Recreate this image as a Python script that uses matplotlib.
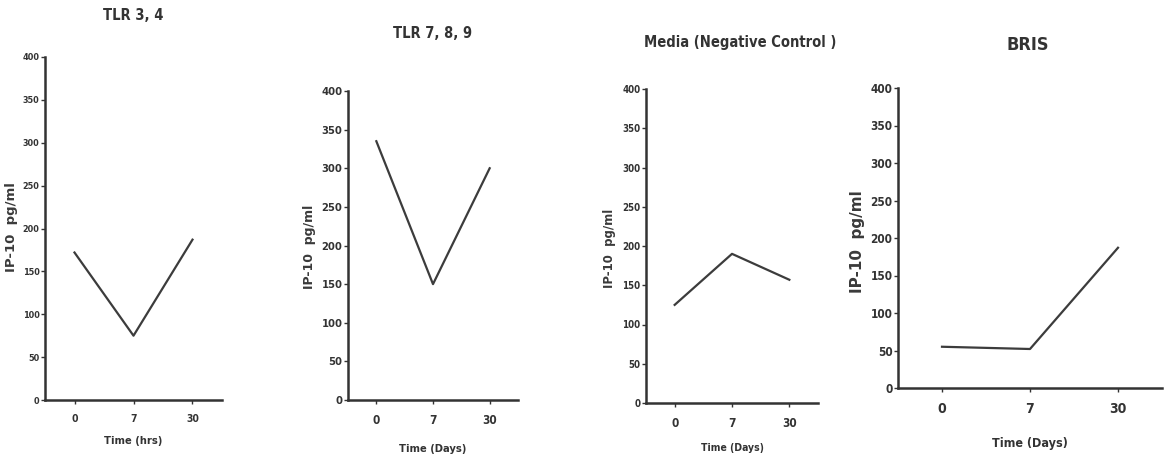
import matplotlib.pyplot as plt

plt.rcParams['font.family'] = ['DejaVu Sans']
plt.rcParams['font.stretch'] = 'condensed'

# IP-10 levels (pg/ml) at each time point
temps = ["0", "7", "30"]
tlr34 = [172, 75, 187]
tlr789 = [335, 150, 300]
media = [125, 190, 157]
bris = [55, 52, 187]
yticks = [0, 50, 100, 150, 200, 250, 300, 350, 400]

W, H = 1172, 459
fig = plt.figure(figsize=(W / 100, H / 100), dpi=100)

def panneau(x0, x1, ytop, y0, valeurs, titre, xlabel, titre_xy, ylab_xy, xlab_y,
            t_titre, t_xlab, t_ylab, t_y, t_x):
    ax = fig.add_axes([x0 / W, 1 - y0 / H, (x1 - x0) / W, (y0 - ytop) / H])
    ax.plot(range(len(temps)), valeurs, color="#3c3c3c", lw=1.6)
    ax.set_xlim(-0.5, 2.5)
    ax.set_ylim(0, 400)
    ax.set_xticks(range(len(temps)))
    ax.set_xticklabels(temps)
    ax.set_yticks(yticks)
    for s in ["top", "right"]:
        ax.spines[s].set_visible(False)
    for s in ["left", "bottom"]:
        ax.spines[s].set_linewidth(1.8)
        ax.spines[s].set_color("#333333")
    ax.tick_params(axis="y", length=3, width=1, pad=1, labelsize=t_y, colors="#333333")
    ax.tick_params(axis="x", length=3, width=1, pad=7, labelsize=t_x, colors="#333333")
    for lab in ax.get_xticklabels() + ax.get_yticklabels():
        lab.set_fontweight("bold")
    ax.patch.set_alpha(0)
    fig.text(titre_xy[0] / W, 1 - titre_xy[1] / H, titre, ha="center", va="center",
             fontsize=t_titre, fontweight="bold", color="#333333")
    fig.text((x0 + x1) / 2 / W, 1 - xlab_y / H, xlabel, ha="center", va="center",
             fontsize=t_xlab, fontweight="bold", color="#333333")
    fig.text(ylab_xy[0] / W, 1 - ylab_xy[1] / H, "IP-10  pg/ml", rotation=90,
             ha="center", va="center", fontsize=t_ylab, fontweight="bold",
             fontstretch="normal", color="#3a3a3a")
    return ax

panneau(45, 222, 57, 400, tlr34, "TLR 3, 4", "Time (hrs)", (133, 16), (12, 227), 441,
        10.5, 8, 9.5, 6.5, 7.5)
panneau(348, 518, 91, 400, tlr789, "TLR 7, 8, 9", "Time (Days)", (433, 33), (310, 247), 449,
        10.5, 8, 9, 8, 8.5)
panneau(646, 818, 89, 403, media, "Media (Negative Control )", "Time (Days)", (740, 43), (610, 248), 448,
        10.5, 7.5, 8.5, 7, 8.5)
panneau(898, 1162, 88, 388, bris, "BRIS", "Time (Days)", (1028, 45), (857, 242), 443,
        13, 9, 11, 8.5, 10)

fig.savefig("out.png", dpi=100)
